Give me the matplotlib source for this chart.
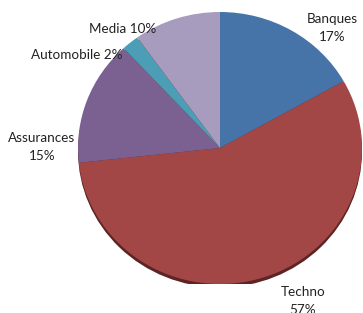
import matplotlib
matplotlib.use("Agg")
import matplotlib.pyplot as plt
from matplotlib.patches import Ellipse

categories = ["Banques", "Techno", "Assurances", "Automobile", "Media"]
values = [17, 57, 15, 2, 10]
colors = ["#4674A8", "#A34746", "#7A6192", "#4B9EB5", "#A79BBE"]

W, H = 363, 313
fig = plt.figure(figsize=(W / 100, H / 100), dpi=100)
fig.patch.set_facecolor("white")

cx, cy, rx, ry = 220, 148, 142, 136
ax = fig.add_axes([(cx - rx) / W, 1 - (cy + ry) / H, 2 * rx / W, 2 * ry / H])
ax.add_patch(Ellipse((0, -0.025), 2, 2, facecolor="#5C2424", edgecolor="none", zorder=0))
ax.pie(values, colors=colors, startangle=90, counterclock=False,
       wedgeprops=dict(linewidth=0, edgecolor="none"))
ax.set_aspect("auto")
ax.set_xlim(-1, 1)
ax.set_ylim(-1, 1)
ax.axis("off")

font = dict(family=["Lato", "DejaVu Sans"], fontsize=9.7, color="#222222")
# label positions (pixel centers) per category
label_pos = {
    "Banques": (332, 28, True),
    "Techno": (303, 301, True),
    "Assurances": (42, 147, True),
    "Automobile": (77, 55, False),
    "Media": (123, 29, False),
}
for cat, v in zip(categories, values):
    x, y, two = label_pos[cat]
    txt = f"{cat}\n{v}%" if two else f"{cat} {v}%"
    fig.text(x / W, 1 - y / H, txt, ha="center", va="center", linespacing=1.6, **font)

fig.savefig("out.png", dpi=100)
